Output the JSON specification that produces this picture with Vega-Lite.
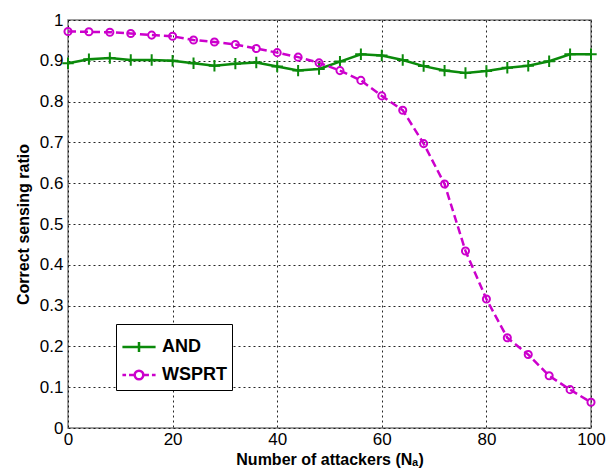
{
  "$schema": "https://vega.github.io/schema/vega-lite/v6.json",
  "width": 523,
  "height": 408,
  "autosize": {"type": "none"},
  "padding": {"left": 68, "top": 20, "right": 18, "bottom": 45},
  "background": "white",
  "config": {
    "font": "Liberation Sans",
    "view": {"stroke": "#7f7f7f", "strokeWidth": 1.5},
    "axis": {
      "grid": true,
      "gridColor": "black",
      "gridDash": [2, 3],
      "gridOpacity": 0.85,
      "gridWidth": 1,
      "ticks": false,
      "domain": false,
      "labelFlush": false,
      "labelOverlap": false,
      "labelFont": "Liberation Sans",
      "labelFontSize": 17,
      "labelColor": "black",
      "titleFont": "Liberation Sans",
      "titleFontSize": 16,
      "titleFontWeight": "bold",
      "titleColor": "black"
    }
  },
  "data": {
    "values": [
      {"x": 0, "series": "AND", "y": 0.894},
      {"x": 4, "series": "AND", "y": 0.904},
      {"x": 8, "series": "AND", "y": 0.907},
      {"x": 12, "series": "AND", "y": 0.902},
      {"x": 16, "series": "AND", "y": 0.902},
      {"x": 20, "series": "AND", "y": 0.9},
      {"x": 24, "series": "AND", "y": 0.894},
      {"x": 28, "series": "AND", "y": 0.888},
      {"x": 32, "series": "AND", "y": 0.893},
      {"x": 36, "series": "AND", "y": 0.896},
      {"x": 40, "series": "AND", "y": 0.886},
      {"x": 44, "series": "AND", "y": 0.876},
      {"x": 48, "series": "AND", "y": 0.88},
      {"x": 52, "series": "AND", "y": 0.898},
      {"x": 56, "series": "AND", "y": 0.916},
      {"x": 60, "series": "AND", "y": 0.913},
      {"x": 64, "series": "AND", "y": 0.902},
      {"x": 68, "series": "AND", "y": 0.887},
      {"x": 72, "series": "AND", "y": 0.876},
      {"x": 76, "series": "AND", "y": 0.87},
      {"x": 80, "series": "AND", "y": 0.875},
      {"x": 84, "series": "AND", "y": 0.883},
      {"x": 88, "series": "AND", "y": 0.888},
      {"x": 92, "series": "AND", "y": 0.899},
      {"x": 96, "series": "AND", "y": 0.916},
      {"x": 100, "series": "AND", "y": 0.916},
      {"x": 0, "series": "WSPRT", "y": 0.972},
      {"x": 4, "series": "WSPRT", "y": 0.971},
      {"x": 8, "series": "WSPRT", "y": 0.97},
      {"x": 12, "series": "WSPRT", "y": 0.967},
      {"x": 16, "series": "WSPRT", "y": 0.963},
      {"x": 20, "series": "WSPRT", "y": 0.96},
      {"x": 24, "series": "WSPRT", "y": 0.951},
      {"x": 28, "series": "WSPRT", "y": 0.946},
      {"x": 32, "series": "WSPRT", "y": 0.94},
      {"x": 36, "series": "WSPRT", "y": 0.93},
      {"x": 40, "series": "WSPRT", "y": 0.92},
      {"x": 44, "series": "WSPRT", "y": 0.909},
      {"x": 48, "series": "WSPRT", "y": 0.895},
      {"x": 52, "series": "WSPRT", "y": 0.876},
      {"x": 56, "series": "WSPRT", "y": 0.852},
      {"x": 60, "series": "WSPRT", "y": 0.814},
      {"x": 64, "series": "WSPRT", "y": 0.779},
      {"x": 68, "series": "WSPRT", "y": 0.697},
      {"x": 72, "series": "WSPRT", "y": 0.598},
      {"x": 76, "series": "WSPRT", "y": 0.434},
      {"x": 80, "series": "WSPRT", "y": 0.316},
      {"x": 84, "series": "WSPRT", "y": 0.221},
      {"x": 88, "series": "WSPRT", "y": 0.18},
      {"x": 92, "series": "WSPRT", "y": 0.128},
      {"x": 96, "series": "WSPRT", "y": 0.094},
      {"x": 100, "series": "WSPRT", "y": 0.063}
    ]
  },
  "encoding": {
    "x": {
      "field": "x", "type": "quantitative",
      "scale": {"domain": [0, 100], "nice": false},
      "axis": {"values": [0, 20, 40, 60, 80, 100], "title": "Number of attackers (Nₐ)", "titlePadding": 4, "labelPadding": 3}
    },
    "y": {
      "field": "y", "type": "quantitative",
      "scale": {"domain": [0, 1], "nice": false},
      "axis": {"values": [0, 0.1, 0.2, 0.3, 0.4, 0.5, 0.6, 0.7, 0.8, 0.9, 1], "format": "~g", "title": "Correct sensing ratio", "titlePadding": 8, "labelPadding": 5}
    }
  },
  "layer": [
    {
      "transform": [{"filter": "datum.series === 'AND'"}],
      "mark": {"type": "line", "strokeWidth": 2.5, "color": "#0b8a0b"},
      "encoding": {}
    },
    {
      "transform": [{"filter": "datum.series === 'WSPRT'"}],
      "mark": {"type": "line", "strokeWidth": 2.5, "color": "#cc00cc", "strokeDash": [8, 4]},
      "encoding": {}
    },
    {
      "transform": [{"filter": "datum.series === 'AND'"}],
      "mark": {"type": "point", "filled": false, "strokeWidth": 2, "opacity": 1, "color": "#0b8a0b", "shape": "M-1,0H1M0,-1V1", "size": 130}
    },
    {
      "transform": [{"filter": "datum.series === 'WSPRT'"}],
      "mark": {"type": "point", "filled": false, "strokeWidth": 2, "opacity": 1, "color": "#cc00cc", "shape": "circle", "size": 50}
    },
    {
      "transform": [{"filter": "false"}],
      "mark": {"type": "point", "filled": false, "strokeWidth": 2.5, "opacity": 1},
      "encoding": {
        "stroke": {
          "field": "series", "type": "nominal",
          "scale": {"domain": ["AND", "WSPRT"], "range": ["#0b8a0b", "#cc00cc"]},
          "legend": {
            "title": null,
            "orient": "none",
            "legendX": 48,
            "legendY": 304,
            "strokeColor": "black",
            "fillColor": "white",
            "padding": 5,
            "symbolSize": 1100,
            "symbolStrokeWidth": 2.5,
            "labelFont": "Liberation Sans",
            "labelFontSize": 18,
            "labelFontWeight": "bold",
            "labelColor": "black",
            "labelOffset": 5,
            "rowPadding": -11,
            "cornerRadius": 0
          }
        },
        "shape": {
          "field": "series", "type": "nominal",
          "scale": {"domain": ["AND", "WSPRT"], "range": ["M-1,0H1M0,-0.3V0.3", "M-1,0H-0.78M-0.6,0H-0.3M0.3,0H0.6M0.78,0H1M-0.26,0A0.26,0.26 0 1,1 0.26,0A0.26,0.26 0 1,1 -0.26,0"]},
          "legend": {
            "title": null,
            "orient": "none",
            "legendX": 48,
            "legendY": 304,
            "strokeColor": "black",
            "fillColor": "white",
            "padding": 5,
            "symbolSize": 1100,
            "symbolStrokeWidth": 2.5,
            "labelFont": "Liberation Sans",
            "labelFontSize": 18,
            "labelFontWeight": "bold",
            "labelColor": "black",
            "labelOffset": 5,
            "rowPadding": -11,
            "cornerRadius": 0
          }
        }
      }
    }
  ]
}
